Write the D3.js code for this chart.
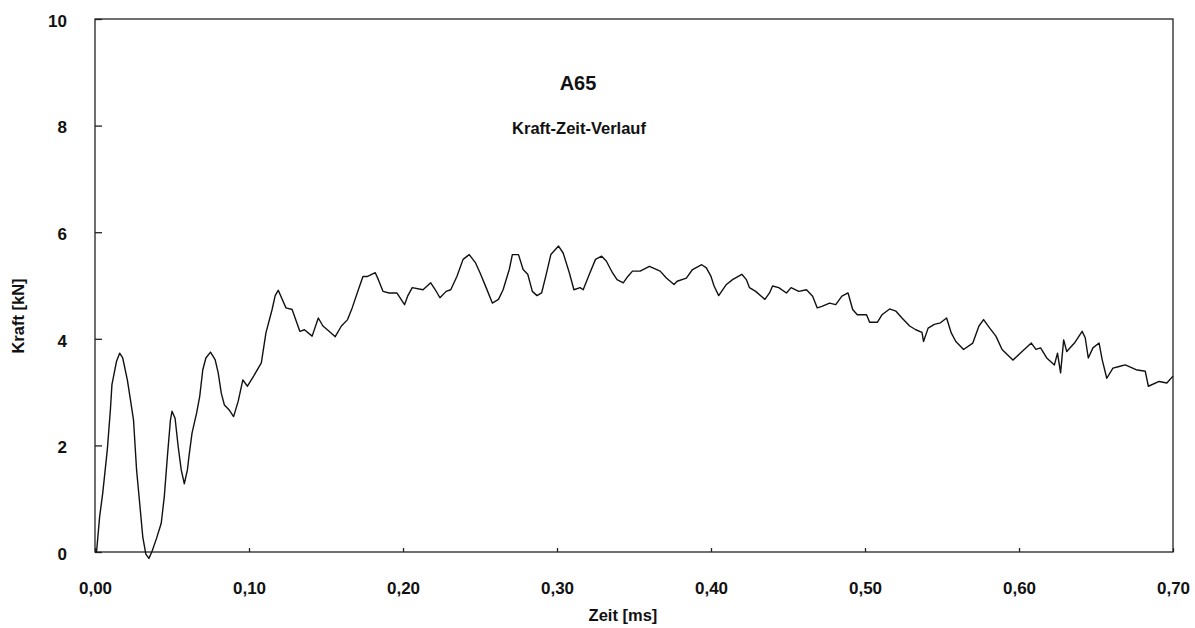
<!DOCTYPE html>
<html>
<head>
<meta charset="utf-8">
<script src="https://cdn.jsdelivr.net/npm/d3@7"></script>
<style>
  html, body { margin: 0; padding: 0; background: #fff; }
  svg { display: block; }
  text { font-family: "Liberation Sans", Arial, Helvetica, sans-serif; fill: #111; }
</style>
</head>
<body>
<svg id="chart" width="1195" height="628"></svg>
<script>
// ---- Data ----
const title = "A65";
const subtitle = "Kraft-Zeit-Verlauf";
const xLabel = "Zeit [ms]";
const yLabel = "Kraft [kN]";

const xTicks = [0, 0.1, 0.2, 0.3, 0.4, 0.5, 0.6, 0.7];
const yTicks = [0, 2, 4, 6, 8, 10];

const time = [
  0.001, 0.003, 0.005, 0.008, 0.010, 0.011, 0.014, 0.016, 0.018, 0.021,
  0.023, 0.025, 0.027, 0.029, 0.031, 0.033, 0.035, 0.037, 0.040, 0.043,
  0.045, 0.047, 0.049, 0.050, 0.052, 0.054, 0.056, 0.058, 0.060, 0.061,
  0.063, 0.066, 0.068, 0.070, 0.072, 0.075, 0.078, 0.080, 0.082, 0.084,
  0.087, 0.090, 0.093, 0.096, 0.099, 0.103, 0.108, 0.111, 0.115, 0.117,
  0.119, 0.124, 0.128, 0.133, 0.136, 0.141, 0.145, 0.148, 0.152, 0.156,
  0.160, 0.164, 0.167, 0.171, 0.174, 0.177, 0.182, 0.184, 0.187, 0.191,
  0.196, 0.201, 0.203, 0.206, 0.213, 0.218, 0.221, 0.224, 0.228, 0.231,
  0.235, 0.239, 0.243, 0.247, 0.250, 0.254, 0.258, 0.262, 0.265, 0.269,
  0.271, 0.275, 0.278, 0.281, 0.284, 0.287, 0.290, 0.293, 0.296, 0.301,
  0.304, 0.308, 0.311, 0.315, 0.317, 0.321, 0.325, 0.329, 0.332, 0.336,
  0.339, 0.343, 0.346, 0.349, 0.354, 0.360, 0.367, 0.371, 0.376, 0.378,
  0.384, 0.388, 0.394, 0.397, 0.400, 0.402, 0.405, 0.410, 0.414, 0.420,
  0.423, 0.425, 0.429, 0.435, 0.438, 0.440, 0.444, 0.449, 0.452, 0.457,
  0.462, 0.466, 0.469, 0.472, 0.477, 0.481, 0.485, 0.489, 0.492, 0.495,
  0.501, 0.503, 0.508, 0.511, 0.516, 0.520, 0.524, 0.529, 0.533, 0.537,
  0.538, 0.541, 0.545, 0.549, 0.553, 0.556, 0.559, 0.564, 0.570, 0.574,
  0.577, 0.581, 0.585, 0.589, 0.596, 0.602, 0.608, 0.611, 0.614, 0.618,
  0.623, 0.625, 0.627, 0.629, 0.631, 0.636, 0.641, 0.643, 0.645, 0.648,
  0.652, 0.654, 0.657, 0.661, 0.665, 0.669, 0.676, 0.682, 0.684, 0.691,
  0.696, 0.700
];

const force = [
  0.00, 0.66, 1.10, 1.92, 2.67, 3.14, 3.58, 3.73, 3.64, 3.23,
  2.86, 2.48, 1.54, 0.92, 0.29, -0.04, -0.12, 0.01, 0.26, 0.54,
  1.04, 1.79, 2.48, 2.64, 2.51, 1.98, 1.54, 1.28, 1.54, 1.79,
  2.23, 2.61, 2.92, 3.42, 3.64, 3.75, 3.61, 3.36, 2.98, 2.76,
  2.67, 2.54, 2.83, 3.23, 3.11, 3.30, 3.55, 4.11, 4.55, 4.81,
  4.91, 4.58, 4.55, 4.14, 4.17, 4.05, 4.39, 4.24, 4.14, 4.04,
  4.24, 4.36, 4.58, 4.92, 5.17, 5.17, 5.24, 5.11, 4.89, 4.86,
  4.86, 4.64, 4.80, 4.96, 4.92, 5.05, 4.92, 4.77, 4.89, 4.92,
  5.17, 5.49, 5.58, 5.43, 5.24, 4.96, 4.67, 4.74, 4.92, 5.30,
  5.58, 5.58, 5.30, 5.21, 4.89, 4.81, 4.86, 5.21, 5.58, 5.74,
  5.61, 5.24, 4.92, 4.96, 4.92, 5.21, 5.49, 5.55, 5.46, 5.24,
  5.11, 5.05, 5.17, 5.27, 5.27, 5.36, 5.27, 5.14, 5.02, 5.08,
  5.14, 5.30, 5.39, 5.33, 5.17, 4.99, 4.81, 5.02, 5.11, 5.21,
  5.11, 4.96, 4.89, 4.74, 4.86, 4.99, 4.96, 4.86, 4.96, 4.89,
  4.92, 4.80, 4.58, 4.61, 4.67, 4.64, 4.80, 4.86, 4.55, 4.45,
  4.45, 4.31, 4.31, 4.45, 4.56, 4.52, 4.39, 4.24, 4.17, 4.12,
  3.95, 4.20, 4.27, 4.30, 4.39, 4.11, 3.95, 3.80, 3.92, 4.24,
  4.36, 4.20, 4.05, 3.80, 3.60, 3.76, 3.92, 3.80, 3.83, 3.64,
  3.51, 3.73, 3.36, 3.98, 3.76, 3.92, 4.14, 4.02, 3.64, 3.83,
  3.92, 3.61, 3.26, 3.45, 3.48, 3.51, 3.42, 3.39, 3.11, 3.20,
  3.17, 3.30
];

// ---- Layout ----
const svg = d3.select("#chart");
const plot = { left: 95, right: 1173, top: 19, bottom: 552 };

const x = d3.scaleLinear().domain([0, 0.7]).range([plot.left, plot.right]);
const y = d3.scaleLinear().domain([0, 10]).range([plot.bottom, plot.top]);

const fmtX = v => d3.format(".2f")(v).replace(".", ",");

// Frame
svg.append("rect")
  .attr("x", plot.left).attr("y", plot.top)
  .attr("width", plot.right - plot.left).attr("height", plot.bottom - plot.top)
  .attr("fill", "none").attr("stroke", "#222").attr("stroke-width", 1.3);

// Left axis (inward ticks)
const yAxis = d3.axisLeft(y).tickValues(yTicks).tickSizeInner(-7).tickSizeOuter(0)
  .tickPadding(28).tickFormat(d3.format("d"));
const gy = svg.append("g").attr("transform", `translate(${plot.left},0)`).call(yAxis);
gy.select(".domain").remove();
gy.selectAll("line").attr("stroke", "#222").attr("stroke-width", 1.3);
gy.selectAll("text").attr("font-size", 17).attr("font-weight", "bold")
  .attr("font-family", "Liberation Sans, Arial, sans-serif").attr("fill", "#111")
  .attr("dy", "0.43em");

// Bottom axis (inward ticks)
const xAxis = d3.axisBottom(x).tickValues(xTicks).tickSizeInner(-4).tickSizeOuter(0)
  .tickPadding(30).tickFormat(fmtX);
const gx = svg.append("g").attr("transform", `translate(0,${plot.bottom})`).call(xAxis);
gx.select(".domain").remove();
gx.selectAll("line").attr("stroke", "#222").attr("stroke-width", 1.3);
gx.selectAll("text").attr("font-size", 17).attr("font-weight", "bold")
  .attr("font-family", "Liberation Sans, Arial, sans-serif").attr("fill", "#111");

// Line
const pts = time.map((t, i) => [t, force[i]]);
const line = d3.line().x(d => x(d[0])).y(d => y(d[1])).curve(d3.curveLinear);
svg.append("path").datum(pts)
  .attr("d", line)
  .attr("fill", "none").attr("stroke", "#111").attr("stroke-width", 1.4)
  .attr("stroke-linejoin", "round");

// Titles
svg.append("text").attr("x", 578).attr("y", 90).attr("text-anchor", "middle")
  .attr("font-size", 20).attr("font-weight", "bold").text(title);
svg.append("text").attr("x", 579).attr("y", 134).attr("text-anchor", "middle")
  .attr("font-size", 16.5).attr("font-weight", "bold").text(subtitle);

// Axis titles
svg.append("text").attr("x", 623).attr("y", 621).attr("text-anchor", "middle")
  .attr("font-size", 16.5).attr("font-weight", "bold").text(xLabel);
svg.append("text").attr("transform", "translate(24,316) rotate(-90)")
  .attr("text-anchor", "middle")
  .attr("font-size", 16.5).attr("font-weight", "bold").text(yLabel);
</script>
</body>
</html>
